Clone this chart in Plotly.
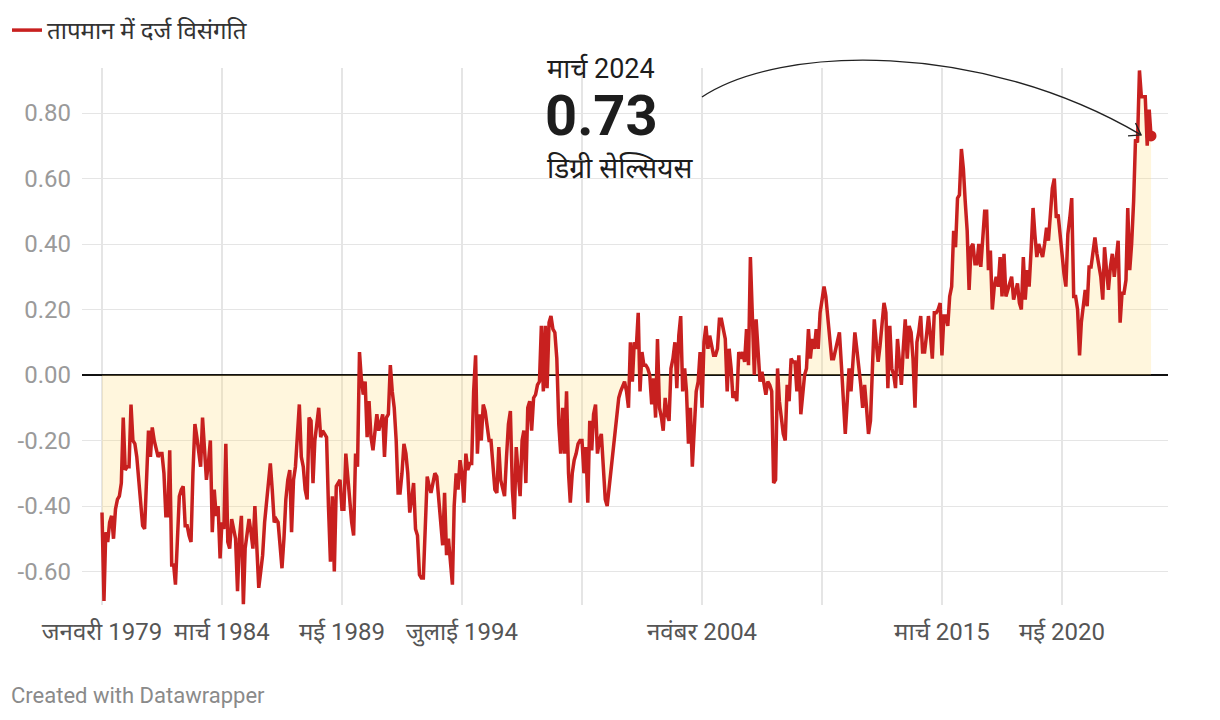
import plotly.graph_objects as go
import pandas as pd

# ---------------- data (monthly anomaly, deg C) ----------------
vals_1979_1983 = [
    -0.42, -0.69, -0.48, -0.51, -0.45, -0.43, -0.50, -0.41, -0.38, -0.37, -0.33, -0.13,
    -0.29, -0.28, -0.28, -0.09, -0.20, -0.21, -0.25, -0.33, -0.40, -0.46, -0.47, -0.30,
    -0.17, -0.25, -0.16, -0.20, -0.23, -0.25, -0.24, -0.24, -0.30, -0.43, -0.43, -0.23,
    -0.58, -0.58, -0.64, -0.48, -0.37, -0.35, -0.34, -0.46, -0.46, -0.49, -0.51, -0.30,
    -0.15, -0.19, -0.24, -0.28, -0.13, -0.22, -0.32, -0.27, -0.20, -0.48, -0.35, -0.43,
]
vals_1984_1988 = [
    -0.40, -0.56, -0.45, -0.47, -0.21, -0.51, -0.53, -0.44, -0.47, -0.50, -0.66, -0.50,
    -0.43, -0.70, -0.53, -0.48, -0.44, -0.48, -0.53, -0.40, -0.55, -0.65, -0.60, -0.55,
    -0.45, -0.38, -0.33, -0.27, -0.35, -0.45, -0.44, -0.45, -0.52, -0.59, -0.50, -0.38,
    -0.32, -0.29, -0.48, -0.32, -0.28, -0.20, -0.09, -0.25, -0.28, -0.35, -0.38, -0.13,
    -0.14, -0.33, -0.20, -0.15, -0.10, -0.19, -0.17, -0.18, -0.19, -0.40, -0.57, -0.37,
]
vals_1989_1993 = [
    -0.60, -0.34, -0.33, -0.32, -0.41, -0.41, -0.24, -0.32, -0.38, -0.45, -0.49, -0.24,
    -0.28, 0.07, -0.01, -0.06, -0.02, -0.19, -0.08, -0.19, -0.23, -0.17, -0.12, -0.17,
    -0.14, -0.12, -0.25, -0.13, -0.12, 0.03, -0.05, -0.10, -0.20, -0.36, -0.36, -0.30,
    -0.21, -0.24, -0.30, -0.42, -0.38, -0.33, -0.47, -0.49, -0.61, -0.62, -0.62, -0.45,
    -0.31, -0.34, -0.36, -0.33, -0.30, -0.31, -0.38, -0.45, -0.52, -0.36, -0.55, -0.50,
]
vals_1994_1998 = [
    -0.58, -0.64, -0.40, -0.30, -0.35, -0.26, -0.30, -0.39, -0.24, -0.29, -0.27, -0.27,
    -0.05, 0.06, -0.24, -0.12, -0.20, -0.09, -0.11, -0.16, -0.20, -0.20, -0.28, -0.35,
    -0.36, -0.22, -0.32, -0.35, -0.37, -0.25, -0.15, -0.11, -0.35, -0.44, -0.22, -0.30,
    -0.37, -0.20, -0.17, -0.33, -0.10, -0.08, -0.17, -0.07, -0.06, -0.03, -0.02, 0.15,
    -0.05, 0.15, -0.04, 0.16, 0.18, 0.14, 0.13, 0.05, -0.15, -0.24, -0.10, -0.24,
]
vals_1999_2003 = [
    -0.05, -0.30, -0.39, -0.30, -0.26, -0.24, -0.21, -0.20, -0.20, -0.30, -0.22, -0.39,
    -0.14, -0.23, -0.12, -0.09, -0.24, -0.20, -0.18, -0.28, -0.38, -0.40, -0.34, -0.28,
    -0.23, -0.16, -0.12, -0.07, -0.05, -0.03, -0.02, -0.05, -0.10, 0.10, -0.02, 0.10,
    0.08, 0.19, -0.05, 0.07, 0.03, 0.03, 0.02, 0.00, -0.09, -0.01, -0.13, 0.11,
    -0.10, -0.13, -0.17, -0.07, -0.12, -0.14, 0.02, 0.05, 0.10, -0.04, 0.12, 0.18,
]
vals_2004_2008 = [
    -0.05, 0.02, -0.05, -0.21, -0.10, -0.28, -0.15, -0.05, -0.02, 0.07, -0.10, 0.10,
    0.15, 0.08, 0.12, 0.09, 0.06, 0.06, 0.08, 0.17, 0.17, 0.14, 0.11, -0.05,
    0.08, 0.02, -0.07, -0.05, -0.08, 0.07, 0.05, 0.07, 0.04, 0.14, 0.03, 0.36,
    0.20, 0.00, 0.17, 0.09, -0.02, 0.01, -0.02, -0.06, -0.02, -0.03, -0.05, -0.33,
    -0.32, 0.02, -0.08, -0.14, -0.18, -0.20, -0.03, -0.08, 0.05, 0.04, 0.04, -0.05,
]
vals_2009_2013 = [
    0.06, -0.12, -0.05, 0.00, 0.02, 0.14, 0.05, 0.11, 0.08, 0.14, 0.08, 0.19,
    0.23, 0.27, 0.24, 0.18, 0.12, 0.05, 0.05, 0.08, 0.10, 0.13, 0.03, -0.10,
    -0.18, -0.08, 0.02, -0.05, 0.05, 0.13, 0.08, 0.03, -0.03, -0.10, -0.03, -0.10,
    -0.18, -0.14, 0.00, 0.17, 0.10, 0.04, 0.09, 0.15, 0.22, 0.19, -0.04, 0.15,
    0.02, 0.00, -0.04, 0.11, 0.05, -0.03, 0.08, 0.17, 0.05, 0.15, 0.13, 0.05,
]
vals_2014_2018 = [
    -0.10, 0.10, 0.13, 0.18, 0.07, 0.07, 0.12, 0.18, 0.12, 0.05, 0.19, 0.19,
    0.20, 0.22, 0.06, 0.18, 0.18, 0.15, 0.24, 0.27, 0.44, 0.39, 0.54, 0.55,
    0.69, 0.63, 0.53, 0.44, 0.26, 0.39, 0.40, 0.34, 0.34, 0.40, 0.33, 0.42,
    0.50, 0.50, 0.32, 0.38, 0.20, 0.27, 0.30, 0.27, 0.36, 0.24, 0.37, 0.24,
    0.26, 0.28, 0.30, 0.23, 0.25, 0.28, 0.22, 0.20, 0.36, 0.23, 0.32, 0.27,
]
vals_2019_2024 = [
    0.38, 0.51, 0.43, 0.36, 0.40, 0.38, 0.36, 0.40, 0.45, 0.41, 0.50, 0.57,
    0.60, 0.48, 0.49, 0.43, 0.35, 0.31, 0.27, 0.43, 0.48, 0.54, 0.24, 0.24,
    0.20, 0.06, 0.16, 0.22, 0.26, 0.21, 0.33, 0.33, 0.38, 0.42, 0.37, 0.33,
    0.30, 0.23, 0.39, 0.32, 0.26, 0.33, 0.37, 0.30, 0.35, 0.41, 0.16, 0.25,
    0.25, 0.29, 0.51, 0.32, 0.40, 0.53, 0.72, 0.71, 0.93, 0.85, 0.85, 0.85,
    0.70, 0.81, 0.73,
]

anomaly = (vals_1979_1983 + vals_1984_1988 + vals_1989_1993 + vals_1994_1998
           + vals_1999_2003 + vals_2004_2008 + vals_2009_2013 + vals_2014_2018
           + vals_2019_2024)
months = pd.date_range("1979-01-01", periods=len(anomaly), freq="MS")

tick_dates = ["1979-01-01", "1984-03-01", "1989-05-01", "1994-07-01", "1999-09-01",
              "2004-11-01", "2010-01-01", "2015-03-01", "2020-05-01"]
tick_labels = ["जनवरी 1979", "मार्च 1984", "मई 1989", "जुलाई 1994", "",
               "नवंबर 2004", "", "मार्च 2015", "मई 2020"]
y_ticks = [-0.6, -0.4, -0.2, 0.0, 0.2, 0.4, 0.6, 0.8]
y_labels = [f"{v:.2f}" for v in y_ticks]

series_name = "तापमान में दर्ज विसंगति"
unit_label = "डिग्री सेल्सियस"
hindi_months = ["जनवरी", "फ़रवरी", "मार्च", "अप्रैल", "मई", "जून", "जुलाई",
                "अगस्त", "सितंबर", "अक्टूबर", "नवंबर", "दिसंबर"]

# ---------------- layout geometry ----------------
W, H = 1220, 720
L, R, T, B = 82, 1168, 68, 605          # plot area in px
RED = "#c8201f"
FONT = "Roboto, 'Noto Sans Devanagari', 'Noto Sans', sans-serif"

t0 = pd.Timestamp("1979-01-01")
t1 = pd.Timestamp("2020-05-01")
px_per_ns = (1062 - 102) / (t1 - t0).value
x_left = t0 - pd.Timedelta(int((102 - L) / px_per_ns), "ns")
x_right = t0 + pd.Timedelta(int((R - 102) / px_per_ns), "ns")
y_per_px = 0.8 / (375 - 113)
y_top = (375 - T) * y_per_px
y_bot = (375 - B) * y_per_px


def pxx(x):
    return (x - L) / (R - L)


def pxy(y):
    return (B - y) / (B - T)


def date_to_px(d):
    return 102 + (pd.Timestamp(d) - t0).value * px_per_ns


def val_to_px(v):
    return 375 - v / y_per_px


fig = go.Figure()
fig.add_trace(go.Scatter(
    x=months, y=anomaly, mode="lines", fill="tozeroy",
    fillcolor="rgba(255,218,120,0.25)", line=dict(width=0),
    showlegend=False, hoverinfo="skip"))
fig.add_trace(go.Scatter(
    x=months, y=anomaly, mode="lines", name=series_name,
    line=dict(color=RED, width=3.5), showlegend=True))
fig.add_trace(go.Scatter(
    x=[months[-1]], y=[anomaly[-1]], mode="markers",
    marker=dict(color=RED, size=11), showlegend=False))

# annotation texts
last = months[-1]
fig.add_annotation(xref="paper", yref="paper", x=pxx(545), y=pxy(69),
                   text=f"{hindi_months[last.month - 1]} {last.year}",
                   showarrow=False, xanchor="left", yanchor="middle",
                   font=dict(size=27, color="#1d1d1d", family=FONT))
fig.add_annotation(xref="paper", yref="paper", x=pxx(543), y=pxy(116),
                   text=f"<b>{anomaly[-1]:.2f}</b>",
                   showarrow=False, xanchor="left", yanchor="middle",
                   font=dict(size=56, color="#1d1d1d", family=FONT))
fig.add_annotation(xref="paper", yref="paper", x=pxx(545), y=pxy(168),
                   text=unit_label,
                   showarrow=False, xanchor="left", yanchor="middle",
                   font=dict(size=28, color="#1d1d1d", family=FONT))
fig.add_annotation(xref="paper", yref="paper", x=pxx(9), y=pxy(696),
                   text="Created with Datawrapper",
                   showarrow=False, xanchor="left", yanchor="middle",
                   font=dict(size=22, color="#8a8a8a", family=FONT))

# curved arrow pointing at the last value
ex = date_to_px(last) - 10
ey = val_to_px(anomaly[-1]) - 1
p0 = (702, 97)
c1 = (780, 45)
c2 = (980, 40)
path = (f"M {pxx(p0[0])},{pxy(p0[1])} C {pxx(c1[0])},{pxy(c1[1])} "
        f"{pxx(c2[0])},{pxy(c2[1])} {pxx(ex)},{pxy(ey)}")
fig.add_shape(type="path", xref="paper", yref="paper", path=path,
              line=dict(color="#222222", width=1.4))
head = (f"M {pxx(ex - 13)},{pxy(ey + 1)} L {pxx(ex)},{pxy(ey)} "
        f"L {pxx(ex - 5.5)},{pxy(ey - 12)}")
fig.add_shape(type="path", xref="paper", yref="paper", path=head,
              line=dict(color="#222222", width=1.4))

fig.update_layout(
    width=W, height=H,
    margin=dict(l=L, r=W - R, t=T, b=H - B, pad=0),
    paper_bgcolor="white", plot_bgcolor="white",
    font=dict(family=FONT, color="#333333"),
    hovermode=False,
    legend=dict(x=7 / W, y=1 - 8 / H, xref="container", yref="container",
                xanchor="left", yanchor="top", orientation="h",
                font=dict(size=24, color="#333333", family=FONT),
                bgcolor="rgba(0,0,0,0)", itemwidth=30),
    xaxis=dict(type="date", range=[x_left, x_right], tickvals=tick_dates,
               ticktext=tick_labels, showgrid=True, gridcolor="#e5e5e5",
               gridwidth=1.5, ticks="", showline=False, zeroline=False,
               tickfont=dict(size=24, color="#555555", family=FONT),
               ticklabelstandoff=10),
    yaxis=dict(range=[y_bot, y_top], tickvals=y_ticks, ticktext=y_labels,
               showgrid=True, gridcolor="#e5e5e5", gridwidth=1, ticks="",
               showline=False, zeroline=True, zerolinecolor="#111111",
               zerolinewidth=1.5,
               tickfont=dict(size=24, color="#9a9a9a", family=FONT),
               ticklabelstandoff=10),
)

fig.write_html("out.html", config={"displayModeBar": False},
               post_script="document.body.style.margin='0';")
